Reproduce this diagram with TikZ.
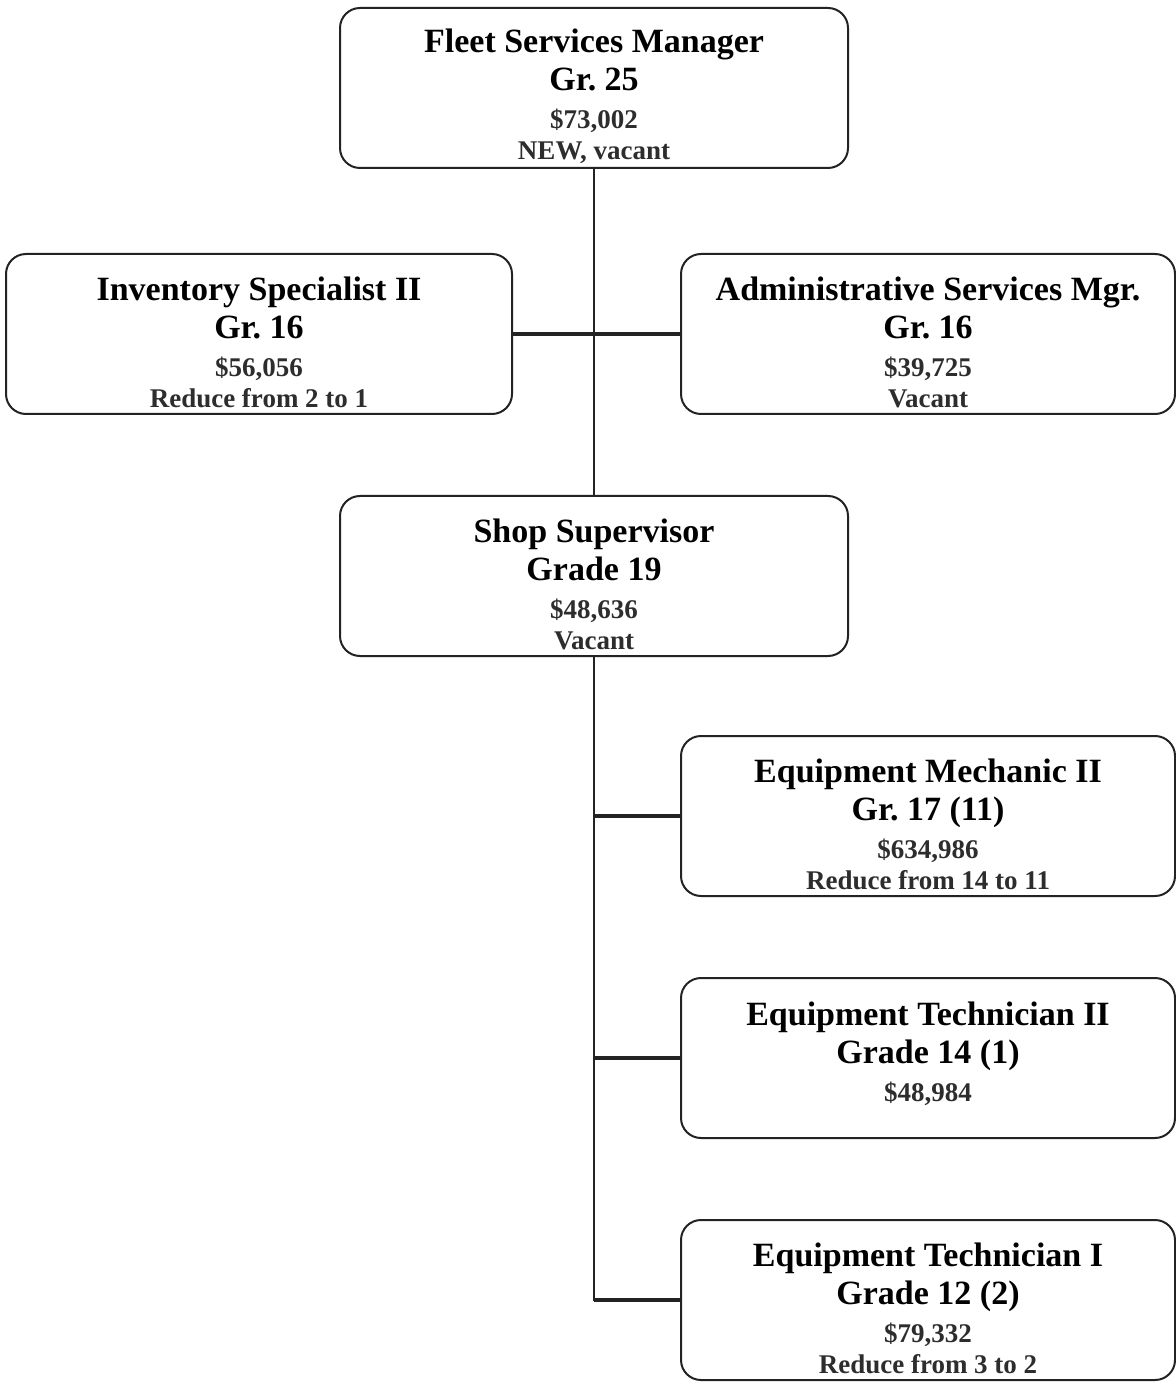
\documentclass[tikz,border=0pt]{standalone}
\usepackage{fontspec}
\setmainfont{Liberation Serif}
\definecolor{orgline}{RGB}{35,35,35}
\definecolor{orgtext}{RGB}{45,45,45}
\usetikzlibrary{positioning}
\newcommand{\detail}[1]{{\fontsize{13.5}{20}\selectfont\color{orgtext}#1}}

\begin{document}
\begin{tikzpicture}[
  x=0.5pt,y=-0.5pt,
  post/.style={draw=orgline,line width=1pt,rounded corners=10pt,minimum width=254pt,minimum height=80pt,
    inner sep=0pt,align=center,font=\bfseries\fontsize{17}{20}\selectfont},
  trunk/.style={draw=orgline,line width=1pt},
  branch/.style={draw=orgline,line width=1.8pt}
]
  \useasboundingbox (0,0) rectangle (1175,1384);
  % Top
  \node[post] (fsm) at (594,88) {
    \rule{0pt}{20.5pt}Fleet Services Manager\\[-1pt]
    Gr.~25\\[-1pt]
    \detail{\$73,002}\\[-4.5pt]
    \detail{NEW, vacant}
  };
  % Staff row
  \node[post,minimum width=253pt] (inv) at (259,334) {
    \rule{0pt}{20.5pt}Inventory Specialist II\\[-1pt]
    Gr.~16\\[-1pt]
    \detail{\$56,056}\\[-4.5pt]
    \detail{Reduce from 2 to 1}
  };
  \node[post,minimum width=247pt] (adm) at (928,334) {
    \rule{0pt}{20.5pt}Administrative Services Mgr.\\[-1pt]
    Gr.~16\\[-1pt]
    \detail{\$39,725}\\[-4.5pt]
    \detail{Vacant}
  };
  % Shop
  \node[post] (shop) at (594,576) {
    \rule{0pt}{20.5pt}Shop Supervisor\\[-1pt]
    Grade 19\\[-1pt]
    \detail{\$48,636}\\[-4.5pt]
    \detail{Vacant}
  };
  % Shop staff
  \node[post,minimum width=247pt] (mech) at (928,816) {
    \rule{0pt}{20.5pt}Equipment Mechanic II\\[-1pt]
    Gr.~17 (11)\\[-1pt]
    \detail{\$634,986}\\[-4.5pt]
    \detail{Reduce from 14 to 11}
  };
  \node[post,minimum width=247pt] (tech2) at (928,1058) {
    \rule{0pt}{20.5pt}Equipment Technician II\\[-1pt]
    Grade 14 (1)\\[-1pt]
    \detail{\$48,984}\\[-4.5pt]
    \mbox{}
  };
  \node[post,minimum width=247pt] (tech1) at (928,1300) {
    \rule{0pt}{20.5pt}Equipment Technician I\\[-1pt]
    Grade 12 (2)\\[-1pt]
    \detail{\$79,332}\\[-4.5pt]
    \detail{Reduce from 3 to 2}
  };

  % Connectors
  \draw[trunk] (fsm.south) -- (shop.north);
  \draw[branch] (inv.east) -- (adm.west);
  \draw[trunk] (shop.south) |- (tech1.west);
  \draw[branch] (shop.south |- mech.west) -- (mech.west);
  \draw[branch] (shop.south |- tech2.west) -- (tech2.west);
  \draw[branch] (shop.south |- tech1.west) -- (tech1.west);
\end{tikzpicture}
\end{document}
